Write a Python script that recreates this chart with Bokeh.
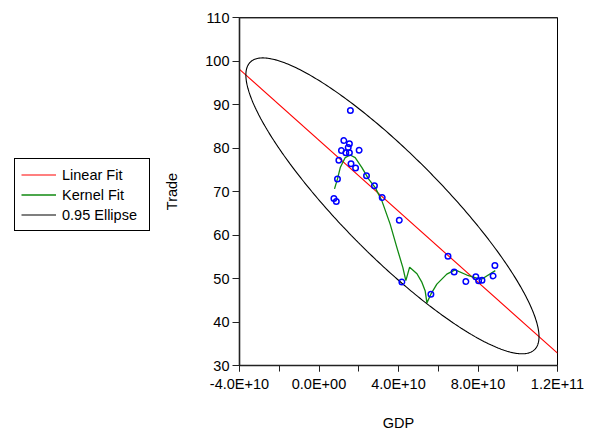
import numpy as np
from bokeh.plotting import figure
from bokeh.layouts import row
from bokeh.models import (FixedTicker, Legend, LegendItem, Range1d, Span)
from bokeh.embed import file_html
from bokeh.resources import INLINE

# ---- data ----
gdp = [15.8e9, 12.5e9, 15.3e9, 14.7e9, 11.3e9, 13.5e9, 15.3e9, 20.2e9, 10.0e9,
       16.1e9, 18.4e9, 23.9e9, 27.9e9, 31.8e9, 9.3e9, 7.5e9, 8.7e9, 40.4e9,
       41.7e9, 56.3e9, 64.9e9, 68.0e9, 73.9e9, 78.9e9, 80.3e9, 82.0e9, 87.6e9, 88.5e9]
trade = [88.6, 81.7, 81.0, 80.1, 79.4, 78.9, 78.9, 79.5, 77.2,
         76.4, 75.4, 73.6, 71.3, 68.6, 72.9, 68.4, 67.7, 63.4,
         49.2, 46.4, 55.1, 51.5, 49.3, 50.4, 49.5, 49.6, 50.6, 53.0]

kernel_gdp = [7.8e9, 9.3e9, 10.7e9, 13.2e9, 15.7e9, 18.2e9, 21.6e9, 24.9e9, 28.3e9,
              31.6e9, 35.8e9, 39.2e9, 42.2e9, 43.7e9, 45.6e9, 49.3e9, 51.8e9, 53.4e9,
              54.3e9, 56.3e9, 59.3e9, 64.3e9, 68.5e9, 74.4e9, 79.4e9, 82.0e9, 88.7e9]
kernel_trade = [70.6, 72.9, 75.5, 77.8, 78.4, 77.8, 75.5, 72.9, 70.9,
                67.9, 62.5, 57.1, 52.5, 49.5, 52.6, 51.1, 49.1, 47.2,
                44.4, 46.4, 48.7, 51.0, 52.0, 50.8, 50.1, 49.9, 51.8]

x_tick_vals = [-4e10, 0.0, 4e10, 8e10, 1.2e11]
x_tick_labels = ["-4.0E+10", "0.0E+00", "4.0E+10", "8.0E+10", "1.2E+11"]
x_minor_vals = [-4e10, -2e10, 0.0, 2e10, 4e10, 6e10, 8e10, 1e11, 1.2e11]
y_tick_vals = [30, 40, 50, 60, 70, 80, 90, 100, 110]

series_names = ["Linear Fit", "Kernel Fit", "0.95 Ellipse"]
series_colors = ["#ff0000", "#118a11", "black"]
series_widths = [1.1, 1.3, 1.1]
ellipse_radius2 = 6.5   # squared Mahalanobis radius of the drawn 0.95 ellipse

# ---- derived fits ----
gx = np.array(gdp)
ty = np.array(trade)
slope, intercept = np.polyfit(gx, ty, 1)
fit_x = np.array([-4e10, 1.2e11])
fit_y = intercept + slope * fit_x

mu = np.array([gx.mean(), ty.mean()])
cov = np.cov(np.vstack([gx, ty]))
vals, vecs = np.linalg.eigh(cov)
t = np.linspace(0, 2 * np.pi, 400)
circ = np.vstack([np.cos(t), np.sin(t)])
ell = vecs @ (np.sqrt(vals * ellipse_radius2)[:, None] * circ)
ell_x = mu[0] + ell[0]
ell_y = mu[1] + ell[1]

series_xy = [(fit_x, fit_y), (kernel_gdp, kernel_trade), (ell_x, ell_y)]

FONT = "Liberation Sans"
FS = "14.5px"
W_LEG = 150

# ---- main chart ----
p = figure(width=592 - W_LEG, height=435, output_backend="svg", toolbar_location=None,
           x_range=Range1d(-4e10, 1.2e11), y_range=Range1d(30, 110),
           min_border_left=239 - W_LEG, min_border_right=35, min_border_top=17,
           min_border_bottom=70)
p.grid.visible = False
p.outline_line_color = "black"
p.outline_line_width = 1
p.background_fill_color = "white"
p.border_fill_color = "white"

for (sx, sy), c, w in zip(series_xy, series_colors, series_widths):
    p.line(sx, sy, line_color=c, line_width=w)
p.scatter(gdp, trade, size=5.5, marker="circle", fill_color=None,
          line_color="#0000ff", line_width=1.5)

p.add_layout(Span(location=110, dimension="width", line_color="#404040", line_width=2))

xa = p.xaxis[0]
xa.ticker = FixedTicker(ticks=x_tick_vals, minor_ticks=x_minor_vals)
xa.major_label_overrides = dict(zip(x_tick_vals, x_tick_labels))
ya = p.yaxis[0]
ya.ticker = FixedTicker(ticks=y_tick_vals, minor_ticks=[])
for ax in (xa, ya):
    ax.axis_line_color = "#222222"
    ax.axis_line_width = 1.6
    ax.major_tick_line_color = "#222222"
    ax.minor_tick_line_color = "#222222"
    ax.major_tick_in = 0
    ax.minor_tick_in = 0
    ax.major_label_text_font = FONT
    ax.major_label_text_font_size = FS
    ax.major_label_text_color = "black"
    ax.axis_label_text_font = FONT
    ax.axis_label_text_font_size = FS
    ax.axis_label_text_font_style = "normal"
    ax.axis_label_text_color = "black"
xa.major_tick_out = 6
xa.minor_tick_out = 6
xa.major_label_standoff = 4
xa.axis_label = "GDP"
xa.axis_label_standoff = 20
ya.major_tick_out = 7
ya.major_label_standoff = 3
ya.axis_label = "Trade"
ya.axis_label_standoff = 22

# ---- legend panel (left); proxies drawn from the same series, outside its view ----
lg = figure(width=W_LEG, height=435, output_backend="svg", toolbar_location=None,
            x_range=Range1d(3e11, 4e11), y_range=Range1d(200, 300),
            min_border=0, outline_line_color=None)
lg.axis.visible = False
lg.grid.visible = False
lg.background_fill_color = "white"
lg.border_fill_color = "white"
leg_r = [lg.line(sx, sy, line_color=c, line_width=w)
         for (sx, sy), c, w in zip(series_xy, series_colors, series_widths)]
legend = Legend(items=[LegendItem(label=n, renderers=[r]) for n, r in zip(series_names, leg_r)],
                location=(14, 134), padding=6, spacing=1, margin=0,
                glyph_width=35, glyph_height=19, label_standoff=6, label_width=81,
                label_text_font=FONT, label_text_font_size=FS, label_text_color="black",
                border_line_color="black", border_line_width=1, border_line_alpha=1.0,
                background_fill_alpha=1.0)
lg.add_layout(legend, "center")

layout = row(lg, p, spacing=0)
open("out.html", "w").write(file_html(layout, INLINE))
